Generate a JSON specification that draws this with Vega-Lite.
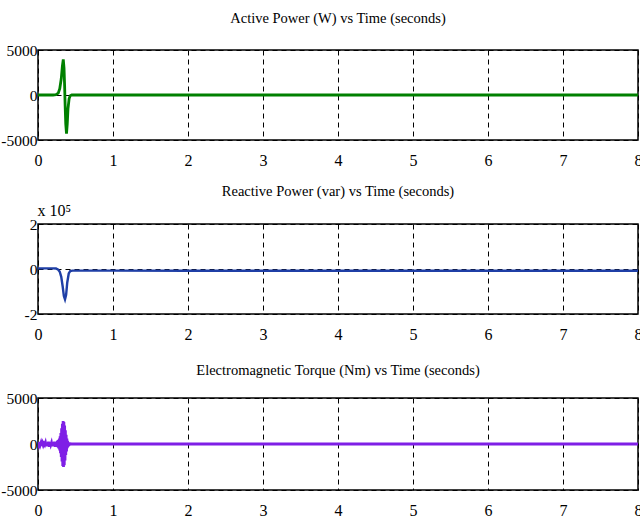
{
  "$schema": "https://vega.github.io/schema/vega-lite/v6.json",
  "padding": {"left": 0, "top": 9, "right": 0, "bottom": 0},
  "background": "white",
  "spacing": 84,
  "bounds": "flush",
  "config": {
    "font": "Liberation Serif",
    "view": {"stroke": "black", "strokeWidth": 1.5},
    "title": {"font": "Liberation Serif", "fontSize": 14.5, "fontWeight": "normal", "color": "black", "offset": 17, "anchor": "middle"},
    "axis": {
      "labelFont": "Liberation Serif", "labelFontSize": 15.5, "labelColor": "black", "labelExpr": "'' + datum.value",
      "domain": false, "ticks": false, "title": null,
      "grid": true, "gridColor": "black", "gridDash": [5, 4], "gridWidth": 1, "gridOpacity": 1
    },
    "axisX": {"labelPadding": 12, "labelFlush": false, "labelFontSize": 16},
    "axisY": {"labelPadding": 1, "minExtent": 37, "maxExtent": 37}
  },
  "datasets": {
    "active": [
      {"t": 0, "p": 0}, {"t": 0.2, "p": 0}, {"t": 0.24, "p": 30}, {"t": 0.27, "p": 200},
      {"t": 0.29, "p": 700}, {"t": 0.31, "p": 1800}, {"t": 0.325, "p": 3200}, {"t": 0.337, "p": 3950},
      {"t": 0.347, "p": 3000}, {"t": 0.355, "p": 1000}, {"t": 0.362, "p": -1200}, {"t": 0.37, "p": -3200},
      {"t": 0.38, "p": -4300}, {"t": 0.39, "p": -3200}, {"t": 0.40, "p": -1500}, {"t": 0.415, "p": -400},
      {"t": 0.43, "p": -80}, {"t": 0.45, "p": 0}, {"t": 1, "p": 0}, {"t": 2, "p": 0}, {"t": 3, "p": 0},
      {"t": 4, "p": 0}, {"t": 5, "p": 0}, {"t": 6, "p": 0}, {"t": 7, "p": 0}, {"t": 8, "p": 0}
    ],
    "reactive": [
      {"t": 0, "q": 3000}, {"t": 0.2, "q": 3000}, {"t": 0.24, "q": 2000}, {"t": 0.27, "q": -3000},
      {"t": 0.29, "q": -12000}, {"t": 0.31, "q": -35000}, {"t": 0.33, "q": -80000}, {"t": 0.345, "q": -120000},
      {"t": 0.36, "q": -135000}, {"t": 0.375, "q": -115000}, {"t": 0.39, "q": -60000}, {"t": 0.41, "q": -20000},
      {"t": 0.43, "q": -9000}, {"t": 0.46, "q": -7000}, {"t": 1, "q": -7000}, {"t": 2, "q": -7500},
      {"t": 3, "q": -7500}, {"t": 4, "q": -8000}, {"t": 5, "q": -8000}, {"t": 6, "q": -8000},
      {"t": 7, "q": -8000}, {"t": 8, "q": -8000}
    ],
    "torque": [
      {"t": 0, "te": 100}, {"t": 0.01, "te": -150}, {"t": 0.02, "te": 200}, {"t": 0.03, "te": -100},
      {"t": 0.04, "te": 150}, {"t": 0.05, "te": -200}, {"t": 0.06, "te": 100}, {"t": 0.07, "te": -150},
      {"t": 0.08, "te": 50}, {"t": 0.09, "te": -100}, {"t": 0.10, "te": 150}, {"t": 0.11, "te": -250},
      {"t": 0.12, "te": 100}, {"t": 0.13, "te": -200}, {"t": 0.14, "te": 250}, {"t": 0.15, "te": -300},
      {"t": 0.16, "te": 200}, {"t": 0.17, "te": -100}, {"t": 0.18, "te": 150}, {"t": 0.19, "te": -250},
      {"t": 0.20, "te": 200}, {"t": 0.21, "te": -150}, {"t": 0.22, "te": 250}, {"t": 0.23, "te": -300},
      {"t": 0.24, "te": 200}, {"t": 0.25, "te": -300}, {"t": 0.26, "te": 350}, {"t": 0.27, "te": -400},
      {"t": 0.275, "te": 450}, {"t": 0.28, "te": -500}, {"t": 0.285, "te": 600}, {"t": 0.29, "te": -700},
      {"t": 0.295, "te": 850}, {"t": 0.30, "te": -1000}, {"t": 0.305, "te": 1200}, {"t": 0.31, "te": -1400},
      {"t": 0.315, "te": 1700}, {"t": 0.32, "te": -1900}, {"t": 0.325, "te": 2200}, {"t": 0.33, "te": -2400},
      {"t": 0.335, "te": 2500}, {"t": 0.34, "te": -2500}, {"t": 0.345, "te": 2400}, {"t": 0.35, "te": -2300},
      {"t": 0.355, "te": 2000}, {"t": 0.36, "te": -1800}, {"t": 0.365, "te": 1500}, {"t": 0.37, "te": -1200},
      {"t": 0.375, "te": 1000}, {"t": 0.38, "te": -800}, {"t": 0.385, "te": 600}, {"t": 0.39, "te": -450},
      {"t": 0.395, "te": 350}, {"t": 0.40, "te": -250}, {"t": 0.405, "te": 180}, {"t": 0.41, "te": -120},
      {"t": 0.415, "te": 80}, {"t": 0.42, "te": -50}, {"t": 0.43, "te": 20}, {"t": 0.45, "te": 0},
      {"t": 1, "te": 0}, {"t": 2, "te": 0}, {"t": 3, "te": 0}, {"t": 4, "te": 0},
      {"t": 5, "te": 0}, {"t": 6, "te": 0}, {"t": 7, "te": 0}, {"t": 8, "te": 0}
    ]
  },
  "vconcat": [
    {
      "width": 600, "height": 90,
      "title": "Active Power (W)  vs  Time (seconds)",
      "data": {"name": "active"},
      "mark": {"type": "line", "color": "#008000", "strokeWidth": 2.8, "clip": true},
      "encoding": {
        "x": {"field": "t", "type": "quantitative", "scale": {"domain": [0, 8], "nice": false, "zero": false}, "axis": {"values": [0, 1, 2, 3, 4, 5, 6, 7, 8]}},
        "y": {"field": "p", "type": "quantitative", "scale": {"domain": [-5000, 5000], "nice": false}, "axis": {"values": [-5000, 0, 5000]}}
      }
    },
    {
      "width": 600, "height": 90,
      "title": {"text": "Reactive Power (var)  vs  Time (seconds)", "offset": 3},
      "data": {"name": "reactive"},
      "mark": {"type": "line", "color": "#1f3fa6", "strokeWidth": 2.4, "clip": true},
      "encoding": {
        "x": {"field": "t", "type": "quantitative", "scale": {"domain": [0, 8], "nice": false, "zero": false}, "axis": {"values": [0, 1, 2, 3, 4, 5, 6, 7, 8]}},
        "y": {"field": "q", "type": "quantitative", "scale": {"domain": [-200000, 200000], "nice": false},
          "axis": {"values": [-200000, 0, 200000], "labelExpr": "'' + (datum.value / 100000)",
            "title": "x 10⁵", "titleAngle": 0, "titleAlign": "left", "titleBaseline": "alphabetic",
            "titleX": -1, "titleY": -9, "titleFont": "Liberation Serif", "titleFontSize": 16, "titleFontWeight": "normal", "titleColor": "black"}}
      }
    },
    {
      "width": 600, "height": 92,
      "title": {"text": "Electromagnetic Torque (Nm)  vs  Time (seconds)", "offset": 13},
      "data": {"name": "torque"},
      "mark": {"type": "line", "color": "#7f1fe6", "strokeWidth": 2.8, "clip": true},
      "encoding": {
        "x": {"field": "t", "type": "quantitative", "scale": {"domain": [0, 8], "nice": false, "zero": false}, "axis": {"values": [0, 1, 2, 3, 4, 5, 6, 7, 8]}},
        "y": {"field": "te", "type": "quantitative", "scale": {"domain": [-5000, 5000], "nice": false}, "axis": {"values": [-5000, 0, 5000]}}
      }
    }
  ]
}
